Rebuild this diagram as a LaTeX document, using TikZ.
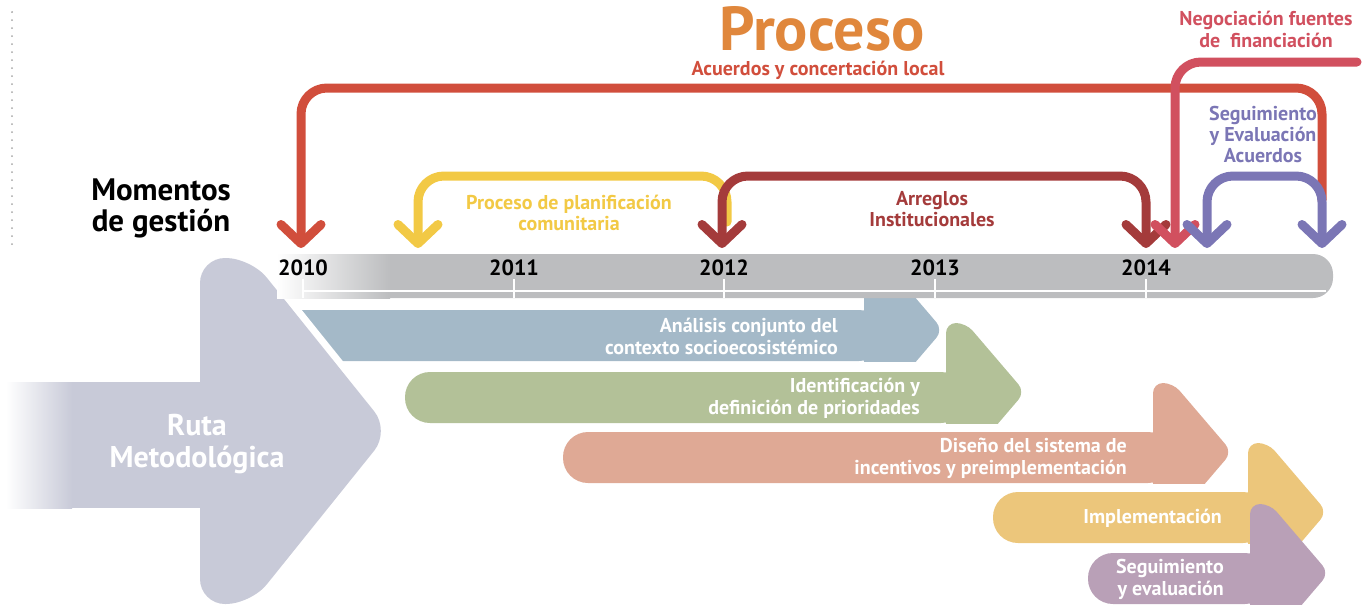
\documentclass[tikz,border=0pt]{standalone}
\usepackage{fontspec}
\setmainfont{PT Sans}
\usetikzlibrary{arrows.meta,positioning}

\definecolor{procOrange}{HTML}{E0873C}
\definecolor{acuerdoRed}{HTML}{D14E3C}
\definecolor{negocPink}{HTML}{D1505F}
\definecolor{segPurple}{HTML}{7B76B5}
\definecolor{planYellow}{HTML}{F2C945}
\definecolor{arregloRed}{HTML}{A43B3B}
\definecolor{bandBlue}{HTML}{A4B9C8}
\definecolor{bandGreen}{HTML}{B3C198}
\definecolor{bandSalmon}{HTML}{DFA995}
\definecolor{bandGold}{HTML}{ECC67B}
\definecolor{bandMauve}{HTML}{B9A0B7}
\definecolor{rutaGray}{HTML}{C8CAD8}
\definecolor{barGray}{HTML}{BCBDBF}

\tikzset{
  chev/.tip={Straight Barb[length=19pt,width=40pt,round]},
  conn/.style={line width=9pt, line cap=round, rounded corners=26pt},
  bandtext/.style={font=\bfseries\fontsize{20}{22}\selectfont, text=white, align=right, inner sep=0pt},
  arclabel/.style={font=\bfseries\fontsize{20}{21}\selectfont, align=center, inner sep=0pt},
  yearlabel/.style={font=\bfseries\fontsize{22}{24}\selectfont, inner sep=0pt},
}

% one stage of the route: name, colour, left x, top y, head x, text
\newcommand{\band}[6]{%
  \begin{scope}
    \clip (#5-2,#4-60) rectangle (#5+100,#4+51);
    \fill[#2, rounded corners=10pt] (#5,#4+80) -- (#5,#4-49) -- (#5+20,#4-49)
      -- (#5+79,#4+20) -- (#5+27.7,#4+80) -- cycle;
  \end{scope}
  \fill[#2, rounded corners=25pt] (#3,#4) rectangle (#5+20,#4+51);
  \node[bandtext, anchor=east] (#1) at (#5-26,#4+26) {#6};
}

\begin{document}
\begin{tikzpicture}[x=1pt,y=-1pt]
    \useasboundingbox (0,0) rectangle (1367,605);

    % dotted margin line
    \coordinate (dotTop) at (12,12);
    \coordinate (dotBot) at (12,246);
    \draw[gray!70, line width=2pt, line cap=round, dash pattern=on 0pt off 8pt] (dotTop) -- (dotBot);

    % first stage lies under the big arrow
    \band{analisis}{bandBlue}{250}{310}{864}{Análisis conjunto del\\contexto socioecosistémico}

    % Ruta Metodologica
    \draw[white, line width=14pt, rounded corners=25pt] (200,258) -- (251,258) -- (390,431) -- (251,604) -- (200,604) -- cycle;
    \fill[rutaGray, rounded corners=25pt] (200,258) -- (251,258) -- (390,431) -- (251,604) -- (200,604) -- cycle;
    \fill[rutaGray] (8,382) rectangle (215,508);
    \shade[left color=white, right color=rutaGray] (6,382) rectangle (72,508);
    \node[font=\bfseries\fontsize{30}{32}\selectfont, text=white, align=center, inner sep=0pt] (ruta) at (197,444) {Ruta\\Metodológica};

    \band{identif}{bandGreen}{405}{372}{946}{Identificación y\\definición de prioridades}
    \band{diseno}{bandSalmon}{563}{432}{1153}{Diseño del sistema de\\incentivos y preimplementación}
    \band{implem}{bandGold}{993}{492}{1248}{Implementación}
    \band{seguim}{bandMauve}{1088}{553}{1250}{Seguimiento\\y evaluación}

    % time line
    \fill[barGray, rounded corners=20pt] (370,254) rectangle (1333,298);
    \shade[left color=white, right color=barGray] (277,254) rectangle (390,298);
    \draw[white, line width=2.5pt] (303,291) -- (1326,291);
    \foreach \yr/\xx in {2010/303, 2011/514, 2012/724, 2013/935, 2014/1146} {
        \draw[white, line width=2.5pt] (\xx,279) -- (\xx,298);
        \node[yearlabel] (y\yr) at (\xx,268) {\yr};
    }

    % titles
    \node[font=\bfseries\fontsize{62}{64}\selectfont, text=procOrange, inner sep=0pt, anchor=base] (proceso) at (822,50) {Proceso};
    \node[arclabel, font=\bfseries\fontsize{20}{21}\selectfont, text=acuerdoRed, anchor=base] (acuerdos) at (818,75) {Acuerdos y concertación local};
    \node[font=\bfseries\fontsize{31}{31}\selectfont, align=center, inner sep=0pt] (momentos) at (161,208) {Momentos\\de gestión};
    \node[arclabel, font=\bfseries\fontsize{20}{22}\selectfont, text=negocPink] (negoc) at (1266,29) {Negociación fuentes\\de~ financiación};
    \node[arclabel, text=segPurple] (seguiAc) at (1263,134) {Seguimiento\\y Evaluación\\Acuerdos};
    \node[arclabel, text=planYellow] (planif) at (569,213) {Proceso de planificación\\comunitaria};
    \node[arclabel, text=arregloRed] (arreglos) at (932,209) {Arreglos\\Institucionales};

    % moments of management
    \coordinate (acuStart) at (1322,200);
    \coordinate (acuTurn) at (301,88);
    \coordinate (acuEnd) at (301,248);
    \coordinate (planStart) at (727,222);
    \coordinate (planTurn) at (418,176);
    \coordinate (planEnd) at (418,248);
    \coordinate (arrLeft) at (722,248);
    \coordinate (arrTurn) at (1146,176);
    \coordinate (arrRight) at (1146,248);
    \coordinate (negStart) at (1357,62);
    \coordinate (negEnd) at (1175,248);
    \coordinate (segLeft) at (1207,248);
    \coordinate (segTurn) at (1322,176);
    \coordinate (segRight) at (1322,248);

    \draw[conn, acuerdoRed, -chev] (acuStart) |- (acuTurn) -- (acuEnd);
    \draw[conn, planYellow, -chev] (planStart) |- (planTurn) -- (planEnd);
    \draw[conn, arregloRed, chev-chev] (arrLeft) |- (arrTurn) -- (arrRight);
    \draw[conn, negocPink, -chev] (negStart) -| (negEnd);
    \draw[conn, segPurple, chev-chev] (segLeft) |- (segTurn) -- (segRight);
\end{tikzpicture}
\end{document}
